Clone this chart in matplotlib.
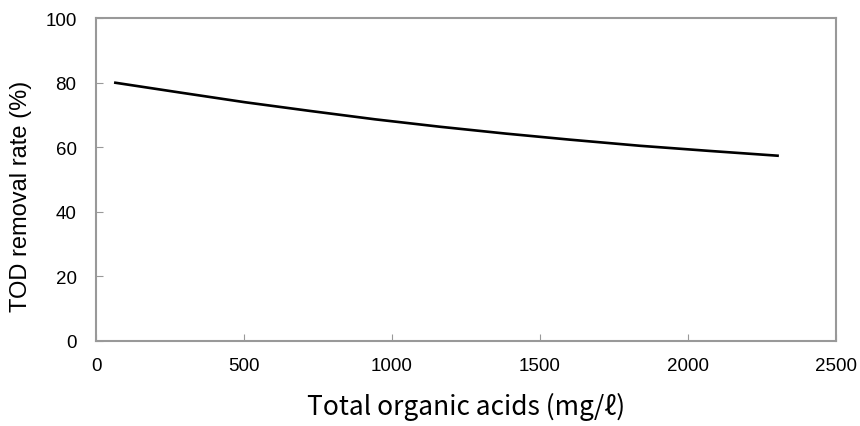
import matplotlib.pyplot as plt

# values
acids = [61, 284, 503, 723, 943, 1162, 1382, 1601, 1838, 2074, 2307]
tod_removal = [80.0, 76.9, 73.9, 71.2, 68.6, 66.3, 64.2, 62.3, 60.4, 58.8, 57.3]

x_ticks = [0, 500, 1000, 1500, 2000, 2500]
y_ticks = [0, 20, 40, 60, 80, 100]

plt.rcParams['font.family'] = ['Liberation Sans', 'DejaVu Sans']

fig = plt.figure(figsize=[8.6, 4.27], dpi=100)
ax = fig.add_axes([96/860, 1 - 341.7/427, 740/860, 322.7/427])

ax.plot(acids, tod_removal, color='black', linewidth=1.9,
        solid_capstyle='butt', solid_joinstyle='round')

ax.set_xlim(0, 2500)
ax.set_ylim(0, 100)
ax.set_xticks(x_ticks)
ax.set_yticks(y_ticks)
ax.tick_params(direction='in', length=5, color='#999999', labelsize=13.5)
ax.tick_params(axis='y', pad=14)
ax.tick_params(axis='x', pad=12)

for s in ax.spines.values():
  s.set_color('#999999')
  s.set_linewidth(1.5)

ax.set_ylabel('TOD removal rate (%)', fontsize=17)
ax.yaxis.set_label_coords(-0.087, 0.45)
ax.set_xlabel('Total organic acids (mg/ℓ)', fontsize=19, labelpad=13,
              family=['Noto Sans CJK JP', 'DejaVu Sans'])

fig.savefig('out.png', dpi=100)
